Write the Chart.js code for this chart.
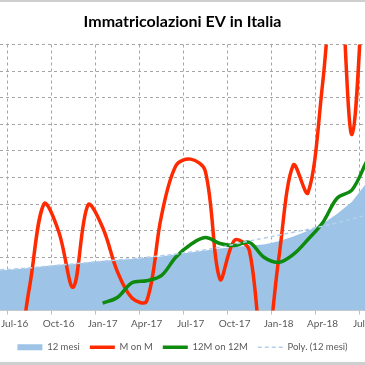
<!DOCTYPE html>
<html>
<head>
<meta charset="utf-8">
<script src="https://cdn.jsdelivr.net/npm/chart.js@4.4.1/dist/chart.umd.min.js"></script>
<style>
    html, body { margin: 0; padding: 0; background: #fff; overflow: hidden; }
    #wrap {
        width: 365px;
        height: 365px;
        box-sizing: border-box;
        border-top: 2px solid #cfcfcf;
        border-bottom: 3px solid #cfcfcf;
    }
    canvas { display: block; }
</style>
</head>
<body>
<div id="wrap"><canvas id="evChart" width="365" height="360"></canvas></div>
<script>
    // months shown (Jun-16 is half cut off on the left, Jul-18 on the right)
    const mesi = [
        'Jun-16', 'Jul-16', 'Aug-16', 'Sep-16', 'Oct-16', 'Nov-16', 'Dec-16',
        'Jan-17', 'Feb-17', 'Mar-17', 'Apr-17', 'May-17', 'Jun-17',
        'Jul-17', 'Aug-17', 'Sep-17', 'Oct-17', 'Nov-17', 'Dec-17',
        'Jan-18', 'Feb-18', 'Mar-18', 'Apr-18', 'May-18', 'Jun-18', 'Jul-18'
    ];
    const tickMesi = ['Jul-16', 'Oct-16', 'Jan-17', 'Apr-17', 'Jul-17', 'Oct-17', 'Jan-18', 'Apr-18', 'Jul-18'];

    // values (no axis labels in the original, arbitrary units)
    const dodiciMesi = [
        15.1, 15.5, 16.0, 16.6, 17.2, 17.5, 18.1,
        18.7, 19.0, 19.4, 19.8, 20.3, 21.1,
        21.8, 22.6, 23.3, 23.9, 24.4, 24.8,
        26.0, 27.8, 30.0, 32.6, 36.4, 40.9, 48.0
    ];
    const mOnM = [
        -5, -20, 8.4, 40.1, 29.7, 8.8, 39.7,
        31.2, 14.7, 4.7, 3.5, 35.3, 54.5,
        56.9, 52.4, 11.8, 26.4, 22.6, -21.5,
        19.2, 54.7, 44.2, 85.3, 140, 66.2, 150
    ];
    const dodiciMOnDodiciM = [
        null, null, null, null, null, null, null,
        2.8, 4.9, 10.4, 11.2, 13.1, 20.1,
        24.8, 27.4, 25.2, 24.4, 25.6, 20.0,
        18.1, 21.1, 26.7, 33.0, 42.3, 45.3, 56.0
    ];
    const polyDodiciMesi = [
        15.3, 15.6, 16.0, 16.5, 17.0, 17.5, 18.0,
        18.5, 19.0, 19.5, 20.0, 20.6, 21.2,
        22.0, 22.8, 23.8, 24.9, 26.1, 27.2,
        28.3, 29.4, 30.5, 31.7, 33.0, 34.4, 35.9
    ];

    function toPoints(values) {
        return values.map((v, i) => ({ x: i, y: v }));
    }

    function legendLabels(chart) {
        return chart.data.datasets.map((ds, i) => ({
            text: ds.label,
            datasetIndex: i,
            fillStyle: ds.backgroundColor,
            strokeStyle: ds.borderColor,
            lineWidth: ds.fill ? 0 : ds.borderWidth,
            lineDash: ds.borderDash || [],
            pointStyle: ds.fill ? 'rect' : 'line',
            fontColor: '#595959',
            hidden: false
        }));
    }

    function buildChart() {
        const ctx = document.getElementById('evChart');
        new Chart(ctx, {
            type: 'line',
            data: {
                datasets: [
                    {
                        label: '12 mesi',
                        data: toPoints(dodiciMesi),
                        fill: 'origin',
                        backgroundColor: '#9dc3e6',
                        borderColor: '#9dc3e6',
                        borderWidth: 0,
                        tension: 0,
                        pointRadius: 0,
                        order: 4
                    },
                    {
                        label: 'M on M',
                        data: toPoints(mOnM),
                        borderColor: '#ff2a00',
                        backgroundColor: '#ff2a00',
                        borderWidth: 3.5,
                        tension: 0.35,
                        capBezierPoints: false,
                        pointRadius: 0,
                        order: 3
                    },
                    {
                        label: '12M on 12M',
                        data: toPoints(dodiciMOnDodiciM),
                        borderColor: '#0e8a0e',
                        backgroundColor: '#0e8a0e',
                        borderWidth: 3.5,
                        tension: 0.35,
                        capBezierPoints: false,
                        pointRadius: 0,
                        order: 2
                    },
                    {
                        label: 'Poly. (12 mesi)',
                        data: toPoints(polyDodiciMesi),
                        borderColor: '#b3cfec',
                        backgroundColor: '#b3cfec',
                        borderWidth: 1.5,
                        borderDash: [4, 3],
                        tension: 0.4,
                        pointRadius: 0,
                        order: 1
                    }
                ]
            },
            options: {
                responsive: false,
                animation: false,
                events: [],
                layout: { padding: 0 },
                scales: {
                    x: {
                        type: 'linear',
                        min: 0,
                        max: 24.89,
                        bounds: 'data',
                        afterBuildTicks: (scale) => {
                            scale.ticks = tickMesi.map((m) => ({ value: mesi.indexOf(m) - 0.5 }));
                        },
                        afterFit: (scale) => {
                            scale.paddingLeft = 0;
                            scale.paddingRight = 0;
                        },
                        ticks: {
                            autoSkip: false,
                            maxRotation: 0,
                            labelOffset: 7.33,
                            padding: 3,
                            color: '#595959',
                            font: { family: 'Lato', size: 10 },
                            callback: (value, index) => tickMesi[index]
                        },
                        grid: {
                            color: '#a6a6a6',
                            drawTicks: true,
                            tickLength: 4,
                            tickColor: '#bfbfbf',
                            tickBorderDash: []
                        },
                        border: { display: true, color: '#c8c8c8', width: 1, dash: [3, 3] }
                    },
                    y: {
                        min: 0,
                        max: 100,
                        ticks: { display: false, stepSize: 10 },
                        grid: {
                            color: '#a6a6a6',
                            drawTicks: false
                        },
                        border: { display: false, dash: [3, 3] }
                    }
                },
                plugins: {
                    title: {
                        display: true,
                        text: 'Immatricolazioni EV in Italia',
                        color: '#000',
                        font: { family: 'Lato', size: 16, weight: 'bold' },
                        padding: { top: 10, bottom: 13.3 }
                    },
                    legend: {
                        position: 'bottom',
                        labels: {
                            usePointStyle: true,
                            pointStyleWidth: 25,
                            boxHeight: 6,
                            padding: 10,
                            color: '#595959',
                            font: { family: 'Lato', size: 9.5 },
                            generateLabels: legendLabels
                        }
                    },
                    tooltip: { enabled: false }
                }
            }
        });
    }

    document.addEventListener('DOMContentLoaded', buildChart);
</script>
</body>
</html>
